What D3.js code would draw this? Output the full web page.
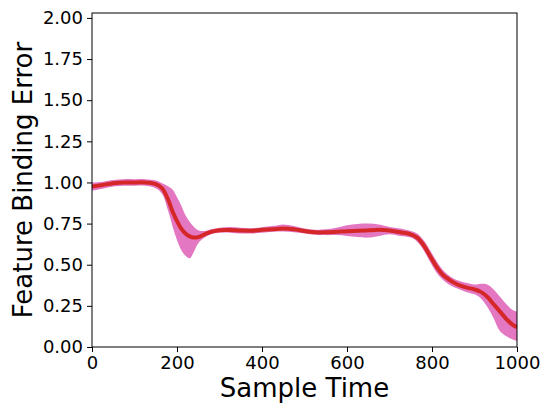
<!DOCTYPE html>
<html>
<head>
<meta charset="utf-8">
<script src="https://d3js.org/d3.v7.min.js"></script>
<style>
    body { margin: 0; background: #fff; }
    svg { display: block; font-family: "DejaVu Sans", sans-serif; }
    .tick text { font-size: 18px; fill: #000; font-family: "DejaVu Sans", sans-serif; }
    .tick line { stroke: #000; stroke-width: 1; }
</style>
</head>
<body>
<svg width="543" height="407"></svg>
<script>
    // sample times
    var times = [0, 25, 50, 75, 100, 125, 150, 165, 180, 190, 200, 210, 220, 230, 240, 250, 265, 280, 300,
        325, 350, 375, 400, 425, 450, 475, 500, 525, 550, 575, 600, 625, 650, 675, 700, 725, 750, 765,
        780, 795, 810, 825, 840, 860, 880, 900, 915, 930, 945, 960, 975, 990, 1000];

    // mean error
    var meanErr = [0.975, 0.985, 0.995, 1.0, 1.0, 1.0, 0.99, 0.965, 0.89, 0.82, 0.765, 0.72, 0.69, 0.672, 0.665, 0.668, 0.685, 0.70, 0.71,
        0.711, 0.708, 0.707, 0.712, 0.716, 0.72, 0.716, 0.705, 0.697, 0.697, 0.700, 0.704, 0.706, 0.709, 0.712, 0.708, 0.697, 0.685, 0.665,
        0.62, 0.555, 0.49, 0.44, 0.41, 0.38, 0.362, 0.35, 0.335, 0.305, 0.26, 0.215, 0.17, 0.135, 0.12];

    // band top / bottom
    var upperErr = [1.0, 1.005, 1.015, 1.02, 1.02, 1.02, 1.012, 0.995, 0.975, 0.955, 0.91, 0.86, 0.80, 0.76, 0.73, 0.71, 0.705, 0.715, 0.725,
        0.73, 0.725, 0.722, 0.728, 0.735, 0.745, 0.735, 0.72, 0.712, 0.715, 0.725, 0.74, 0.748, 0.75, 0.745, 0.73, 0.72, 0.705, 0.69,
        0.65, 0.59, 0.525, 0.47, 0.435, 0.405, 0.39, 0.38, 0.385, 0.38, 0.35, 0.305, 0.26, 0.225, 0.215];

    var lowerErr = [0.95, 0.962, 0.975, 0.98, 0.98, 0.98, 0.965, 0.93, 0.82, 0.73, 0.65, 0.59, 0.555, 0.54, 0.58, 0.63, 0.665, 0.685, 0.695,
        0.695, 0.69, 0.69, 0.695, 0.70, 0.702, 0.698, 0.69, 0.682, 0.68, 0.68, 0.675, 0.668, 0.665, 0.675, 0.685, 0.675, 0.665, 0.64,
        0.59, 0.52, 0.455, 0.41, 0.38, 0.355, 0.335, 0.32, 0.295, 0.245, 0.175, 0.095, 0.065, 0.045, 0.035];

    var xTicks = [0, 200, 400, 600, 800, 1000];
    var yTicks = [0, 0.25, 0.5, 0.75, 1.0, 1.25, 1.5, 1.75, 2.0];

    var svg = d3.select("svg"),
        margin = {top: 13, right: 26, bottom: 60, left: 92},
        width = +svg.attr("width") - margin.left - margin.right,
        height = +svg.attr("height") - margin.top - margin.bottom;

    var g = svg.append("g").attr("transform", "translate(" + margin.left + "," + margin.top + ")");

    var x = d3.scaleLinear().domain([0, 1000]).range([0, width]);
    var y = d3.scaleLinear().domain([0, 2.03]).range([height, 0]);

    var data = times.map(function(t, i) {
        return {t: t, m: meanErr[i], lo: lowerErr[i], hi: upperErr[i]};
    });

    g.append("clipPath").attr("id", "clip")
        .append("rect").attr("width", width).attr("height", height);

    var area = d3.area()
        .x(function(d) { return x(d.t); })
        .y0(function(d) { return y(d.lo); })
        .y1(function(d) { return y(d.hi); })
        .curve(d3.curveCatmullRom);

    var line = d3.line()
        .x(function(d) { return x(d.t); })
        .y(function(d) { return y(d.m); })
        .curve(d3.curveCatmullRom);

    g.append("path")
        .datum(data)
        .attr("clip-path", "url(#clip)")
        .attr("fill", "#e377c2")
        .attr("d", area);

    g.append("path")
        .datum(data)
        .attr("clip-path", "url(#clip)")
        .attr("fill", "none")
        .attr("stroke", "#d62728")
        .attr("stroke-width", 4)
        .attr("d", line);

    // axes
    var xAxis = g.append("g")
        .attr("transform", "translate(0," + height + ")")
        .call(d3.axisBottom(x).tickValues(xTicks).tickSize(5).tickPadding(4).tickFormat(d3.format("d")));
    xAxis.select(".domain").remove();

    var yAxis = g.append("g")
        .call(d3.axisLeft(y).tickValues(yTicks).tickSize(5).tickPadding(4).tickFormat(d3.format(".2f")));
    yAxis.select(".domain").remove();

    // frame
    g.append("rect")
        .attr("width", width)
        .attr("height", height)
        .attr("fill", "none")
        .attr("stroke", "#000")
        .attr("stroke-width", 1);

    svg.append("text")
        .attr("x", margin.left + width / 2)
        .attr("y", 397)
        .attr("text-anchor", "middle")
        .attr("font-size", 26)
        .text("Sample Time");

    svg.append("text")
        .attr("transform", "translate(32," + (margin.top + height / 2) + ") rotate(-90)")
        .attr("text-anchor", "middle")
        .attr("font-size", 26)
        .text("Feature Binding Error");
</script>
</body>
</html>
